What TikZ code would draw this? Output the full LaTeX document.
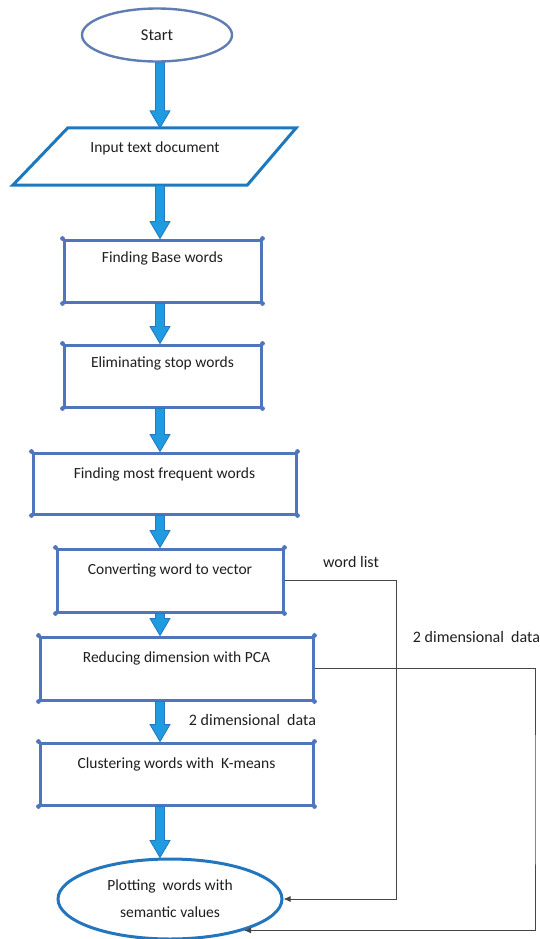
\documentclass[tikz,border=0pt]{standalone}
\usepackage{fontspec}
\setmainfont{Carlito}
\usetikzlibrary{shapes.geometric,calc,arrows.meta}
\definecolor{boxblue}{RGB}{79,117,188}
\definecolor{parblue}{RGB}{30,120,190}
\definecolor{startblue}{RGB}{95,125,178}
\definecolor{plotblue}{RGB}{35,118,190}
\definecolor{arrfill}{RGB}{30,155,225}
\definecolor{arredge}{RGB}{40,118,190}
\definecolor{txt}{RGB}{30,30,30}
\definecolor{connc}{RGB}{70,70,70}
\tikzset{
  boxstyle/.style={draw=boxblue, line width=3pt, rectangle, inner sep=0pt,
    text=txt, font=\fontsize{15.5}{18}\selectfont},
  barrow/.style={draw=arredge, fill=arrfill, line width=0.8pt, line join=miter},
  conn/.style={draw=connc, line width=0.9pt, -{Latex[length=7pt,width=6pt]}},
  lbl/.style={text=txt, font=\fontsize{16}{18}\selectfont, inner sep=0pt},
}
\newcommand\blockarrow[2]{%
  \draw[barrow] let \p1=(#1.south -| spine), \p2=(#2.north -| spine) in
    (\x1-4.5pt,\y1) -- (\x1+4.5pt,\y1) -- (\x1+4.5pt,\y2+17pt) -- (\x1+10pt,\y2+17pt)
    -- (\x1,\y2) -- (\x1-10pt,\y2+17pt) -- (\x1-4.5pt,\y2+17pt) -- cycle;}
\begin{document}
\begin{tikzpicture}[x=1pt,y=-1pt]
\useasboundingbox (0,0) rectangle (539,939);
\coordinate (spine) at (160,0);

% Start
\node[ellipse, draw=startblue, line width=2.4pt, minimum width=150pt, minimum height=53pt,
      inner sep=0pt, text=txt, font=\fontsize{16.5}{18}\selectfont] (start) at (157,35) {Start};

% Input (parallelogram)
\node[inner sep=0pt, minimum width=230pt, text height=25pt, text depth=32pt,
      text=txt, font=\fontsize{15.5}{18}\selectfont] (input) at (155,156.5) {Input text document};
\draw[draw=parblue, line width=3pt, line join=miter]
  ($(input.north west)+(28pt,0)$) -- ($(input.north east)+(26pt,0)$)
  -- ($(input.south east)+(-23pt,0)$) -- ($(input.south west)+(-27pt,0)$) -- cycle;

% Process boxes
\node[boxstyle, minimum width=197pt, text height=22pt, text depth=40pt] (base) at (162.5,271) {Finding Base words};
\node[boxstyle, minimum width=197pt, text height=22pt, text depth=40pt] (stop) at (162.5,376) {Eliminating stop words};
\node[boxstyle, minimum width=263pt, text height=25pt, text depth=36pt] (freq) at (164.5,483.5) {Finding most frequent words};
\node[boxstyle, minimum width=226pt, text height=25pt, text depth=38pt] (conv) at (170,580.5) {Converting word to vector};
\node[boxstyle, minimum width=273pt, text height=25pt, text depth=38pt] (pca) at (176.5,668.5) {Reducing dimension with PCA};
\node[boxstyle, minimum width=273pt, text height=25pt, text depth=37pt] (clus) at (176.5,774) {Clustering words with \ K-means};

\foreach \n in {base,stop,freq,conv,pca,clus}{
  \foreach \a in {north west,north east,south west,south east}{
    \fill[boxblue] (\n.\a) circle (2.4pt);}}

% Plot ellipse
\node[ellipse, draw=plotblue, line width=3pt, minimum width=224pt, minimum height=80pt,
      inner sep=0pt, align=center, text=txt, font=\fontsize{15.5}{27}\selectfont] (plot) at (170,899)
      {Plotting \ words with\\semantic values};

% Block arrows
\blockarrow{start}{input}
\blockarrow{input}{base}
\blockarrow{base}{stop}
\blockarrow{stop}{freq}
\blockarrow{freq}{conv}
\blockarrow{conv}{pca}
\blockarrow{pca}{clus}
\blockarrow{clus}{plot}

% Side connectors
\coordinate (c1) at (396,899);
\coordinate (c2) at (535,800);
\draw[conn] (conv.east) -| (c1) -- (plot.east);
\draw[conn] (pca.east) -| (c2) |- (plot.-23.6);

% Labels
\node[lbl] (lwl) at (351,562) {word list};
\node[lbl] (l2dr) at (476.5,637) {2 dimensional \ data};
\node[lbl] (l2dl) at (252.5,720) {2 dimensional \ data};
\end{tikzpicture}
\end{document}
